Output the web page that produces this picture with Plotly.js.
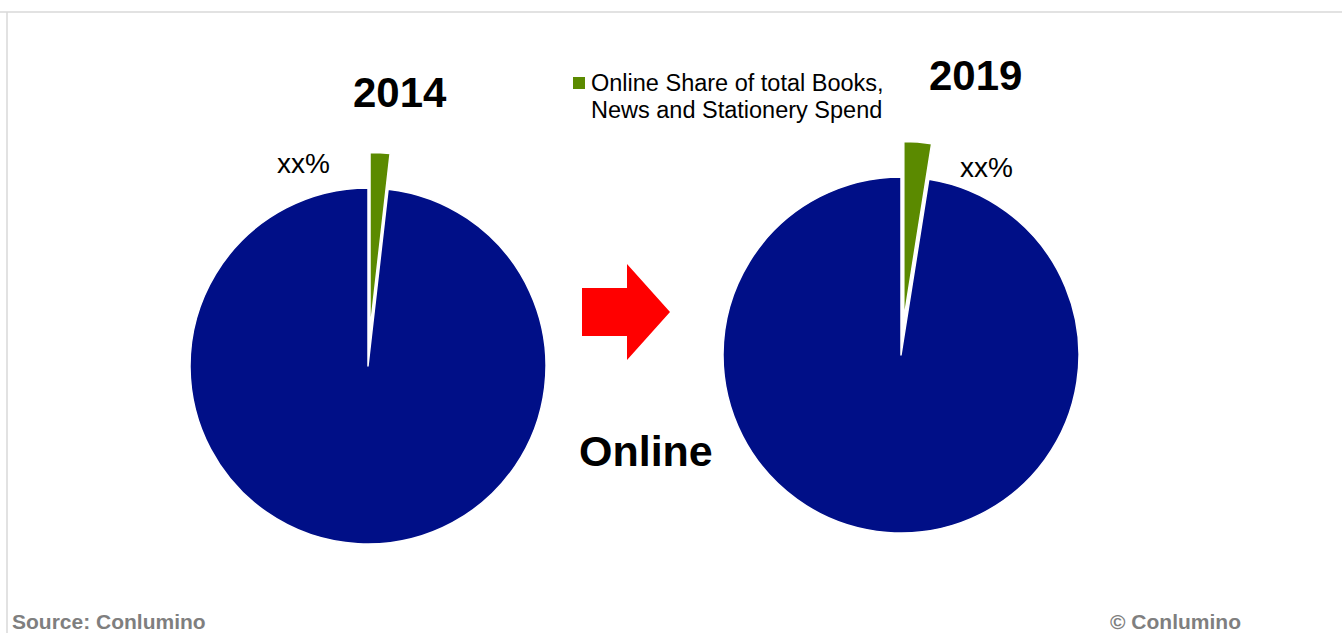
<!DOCTYPE html>
<html>
<head>
<meta charset="utf-8">
<script src="https://cdn.plot.ly/plotly-3.0.1.min.js"></script>
<style>html,body{margin:0;padding:0;background:#fff;}#chart{width:1342px;height:633px;}</style>
</head>
<body>
<div id="chart"></div>
<script>
// Data
const sliceLabels = ['Online', 'Other'];
const values2014 = [1.8, 98.2];
const values2019 = [2.5, 97.5];
const yearLabels = ['2014', '2019'];
const sliceText = ['xx%', 'xx%'];
const legendLines = ['Online Share of total Books,', 'News and Stationery Spend'];

const W = 1342, H = 633;
const px = x => x / W;
const py = y => 1 - y / H;
const colors = ['#5b8a00', '#000f87'];

function dom(cx, cy, r, pull) {
  const half = r * (1 + pull);
  return {x: [(cx - half) / W, (cx + half) / W], y: [(H - cy - half) / H, (H - cy + half) / H]};
}

const pieBase = {
  type: 'pie', labels: sliceLabels, sort: false, direction: 'clockwise', rotation: 0,
  textinfo: 'none', hoverinfo: 'label+percent', pull: [0.2, 0], showlegend: false,
  marker: {colors: colors, line: {color: '#ffffff', width: 1.5}}
};

const traces = [
  Object.assign({}, pieBase, {values: values2014, domain: dom(368, 366, 178, 0.2), name: yearLabels[0]}),
  Object.assign({}, pieBase, {values: values2019, domain: dom(901, 355, 178, 0.2), name: yearLabels[1]})
];

const F = 'Liberation Sans, Arial, sans-serif';
const arrow = [[582,288],[627,288],[627,264],[670,312],[627,360],[627,336],[582,336]];
const arrowPath = 'M ' + arrow.map(p => px(p[0]) + ',' + py(p[1])).join(' L ') + ' Z';

const layout = {
  width: W, height: H, margin: {l: 0, r: 0, t: 0, b: 0},
  paper_bgcolor: '#ffffff', font: {family: F, color: '#000'},
  shapes: [
    {type: 'line', xref: 'paper', yref: 'paper', x0: 0, x1: 1, y0: py(12), y1: py(12), line: {color: '#d9d9d9', width: 1.5}},
    {type: 'line', xref: 'paper', yref: 'paper', x0: px(7), x1: px(7), y0: py(12), y1: 0, line: {color: '#d9d9d9', width: 1.5}},
    {type: 'path', xref: 'paper', yref: 'paper', path: arrowPath, fillcolor: '#ff0000', line: {width: 0}},
    {type: 'rect', xref: 'paper', yref: 'paper', x0: px(573), x1: px(585), y0: py(89), y1: py(77), fillcolor: colors[0], line: {width: 0}}
  ],
  annotations: [
    {xref: 'paper', yref: 'paper', x: px(400), y: py(92), text: '<b>' + yearLabels[0] + '</b>', showarrow: false, font: {size: 42, family: F}, xanchor: 'center', yanchor: 'middle'},
    {xref: 'paper', yref: 'paper', x: px(975), y: py(75), text: '<b>' + yearLabels[1] + '</b>', showarrow: false, font: {size: 42, family: F}, xanchor: 'center', yanchor: 'middle'},
    {xref: 'paper', yref: 'paper', x: px(303), y: py(164), text: sliceText[0], showarrow: false, font: {size: 28, family: F}, xanchor: 'center', yanchor: 'middle'},
    {xref: 'paper', yref: 'paper', x: px(986), y: py(167), text: sliceText[1], showarrow: false, font: {size: 28, family: F}, xanchor: 'center', yanchor: 'middle'},
    {xref: 'paper', yref: 'paper', x: px(646), y: py(451), text: '<b>Online</b>', showarrow: false, font: {size: 43, family: F}, xanchor: 'center', yanchor: 'middle'},
    {xref: 'paper', yref: 'paper', x: px(589), y: py(83), text: legendLines[0], showarrow: false, align: 'left', font: {size: 23.5, family: F}, xanchor: 'left', yanchor: 'middle'},
    {xref: 'paper', yref: 'paper', x: px(589), y: py(110), text: legendLines[1], showarrow: false, align: 'left', font: {size: 23.5, family: F}, xanchor: 'left', yanchor: 'middle'},
    {xref: 'paper', yref: 'paper', x: px(10), y: 0, text: '<b>Source: Conlumino</b>', showarrow: false, font: {size: 21, family: F, color: '#7f7f7f'}, xanchor: 'left', yanchor: 'bottom', yshift: -2},
    {xref: 'paper', yref: 'paper', x: px(1108), y: 0, text: '<b>© Conlumino</b>', showarrow: false, font: {size: 21, family: F, color: '#7f7f7f'}, xanchor: 'left', yanchor: 'bottom', yshift: -2}
  ]
};

Plotly.newPlot('chart', traces, layout, {displayModeBar: false, staticPlot: true});
</script>
</body>
</html>
